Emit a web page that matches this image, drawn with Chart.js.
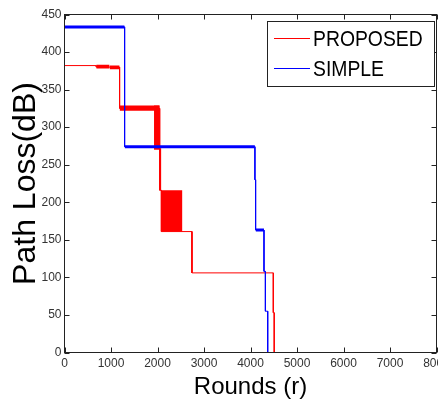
<!DOCTYPE html>
<html>
<head>
<meta charset="utf-8">
<script src="https://cdn.jsdelivr.net/npm/chart.js@4"></script>
<style>
  html, body { margin: 0; padding: 0; background: #fff; }
  canvas { display: block; }
</style>
</head>
<body>
<canvas id="pathLoss" width="438" height="402"></canvas>
<script>
// series: step paths (x = rounds, y = path loss in dB)
const proposedX = [0, 683, 683, 1185, 1185, 2047, 2047, 2083, 2083, 2743, 2743, 4490, 4490, 4510, 4510];
const proposedY = [382, 382, 380, 380, 325, 325, 216, 216, 161, 161, 106, 106, 53, 53, 0];
const simpleX = [0, 1293, 1293, 4095, 4095, 4110, 4110, 4290, 4290, 4320, 4320, 4370, 4370];
const simpleY = [433.5, 433.5, 274, 274, 230, 230, 163, 163, 108, 108, 55, 55, 0];

// noisy stretches: range the value jumps around in (from x0 to x1, lo..hi)
const proposedBandX0 = [683, 970, 1185, 1925, 2047, 2083, 2723];
const proposedBandX1 = [970, 1185, 2047, 2047, 2083, 2536, 2743];
const proposedBandLo = [378, 377, 322, 270, 216, 161, 106];
const proposedBandHi = [383, 382, 329, 329, 272, 216, 161];
const simpleBandX0 = [0, 1293, 4110];
const simpleBandX1 = [1293, 4095, 4290];
const simpleBandLo = [431.5, 272, 161];
const simpleBandHi = [435.5, 276, 165];

const xTicks = [0, 1000, 2000, 3000, 4000, 5000, 6000, 7000, 8000];
const yTicks = [0, 50, 100, 150, 200, 250, 300, 350, 400, 450];

const RED = '#ff0000';
const BLUE = '#0000ff';

const toPts = (xs, ys) => xs.map((x, i) => ({x: x, y: ys[i]}));

function bandSets(x0, x1, lo, hi, color, order) {
  const out = [];
  x0.forEach((a, i) => {
    out.push({
      label: '', band: true, order: order,
      data: [{x: a, y: lo[i]}, {x: x1[i], y: lo[i]}],
      borderWidth: 0, borderColor: color, pointRadius: 0, fill: false
    });
    out.push({
      label: '', band: true, order: order,
      data: [{x: a, y: hi[i]}, {x: x1[i], y: hi[i]}],
      borderWidth: 0, borderColor: color, backgroundColor: color,
      pointRadius: 0, fill: '-1'
    });
  });
  return out;
}

const datasets = [
  {label: 'PROPOSED', data: toPts(proposedX, proposedY), borderColor: RED, borderWidth: 1, pointRadius: 0, fill: false, order: 3},
  {label: 'SIMPLE', data: toPts(simpleX, simpleY), borderColor: BLUE, borderWidth: 1, pointRadius: 0, fill: false, order: 1}
]
  .concat(bandSets(proposedBandX0, proposedBandX1, proposedBandLo, proposedBandHi, RED, 2))
  .concat(bandSets(simpleBandX0, simpleBandX1, simpleBandLo, simpleBandHi, BLUE, 0));

const tickFont = {family: "'Liberation Sans Narrow', 'Liberation Sans', Arial, sans-serif", size: 12};

// matlab style frame with inward ticks
const framePlugin = {
  id: 'frame',
  afterDraw(chart) {
    const ctx = chart.ctx;
    const a = chart.chartArea;
    const xs = chart.scales.x, ys = chart.scales.y;
    ctx.save();
    ctx.strokeStyle = '#222';
    ctx.lineWidth = 1;
    ctx.strokeRect(a.left, a.top, a.right - a.left, a.bottom - a.top);
    ctx.beginPath();
    xTicks.forEach(v => {
      const px = Math.round(xs.getPixelForValue(v)) + 0.5;
      ctx.moveTo(px, a.bottom); ctx.lineTo(px, a.bottom - 5);
      ctx.moveTo(px, a.top); ctx.lineTo(px, a.top + 5);
    });
    yTicks.forEach(v => {
      const py = Math.round(ys.getPixelForValue(v)) + 0.5;
      ctx.moveTo(a.left, py); ctx.lineTo(a.left + 5, py);
      ctx.moveTo(a.right, py); ctx.lineTo(a.right - 5, py);
    });
    ctx.stroke();

    // legend box
    ctx.fillStyle = '#fff';
    ctx.fillRect(267.5, 21.5, 167, 65);
    ctx.strokeRect(267.5, 21.5, 167, 65);
    const items = chart.data.datasets.filter(d => !d.band);
    items.forEach((d, i) => {
      const y = 38.5 + i * 30;
      ctx.strokeStyle = d.borderColor;
      ctx.beginPath();
      ctx.moveTo(274, y); ctx.lineTo(310, y);
      ctx.stroke();
      ctx.save();
      ctx.translate(313, 45.7 + i * 30.3);
      ctx.scale(0.88, 1);
      ctx.fillStyle = '#000';
      ctx.font = "22px 'Liberation Sans', Arial, sans-serif";
      ctx.textBaseline = 'alphabetic';
      ctx.fillText(d.label, 0, 0);
      ctx.restore();
    });
    ctx.restore();
  }
};

new Chart(document.getElementById('pathLoss'), {
  type: 'line',
  data: {datasets: datasets},
  options: {
    responsive: false,
    animation: false,
    layout: {padding: {top: 14.5, right: 1.5, left: 0, bottom: 0}},
    plugins: {legend: {display: false}, tooltip: {enabled: false}},
    elements: {line: {tension: 0}},
    scales: {
      x: {
        type: 'linear', min: 0, max: 8000,
        afterFit: s => { s.height = 49.5; s.paddingLeft = 0; s.paddingRight = 0; },
        afterBuildTicks: s => { s.ticks = xTicks.map(v => ({value: v})); },
        grid: {display: false, drawTicks: false},
        border: {display: false},
        ticks: {font: tickFont, color: '#333', padding: 4, maxRotation: 0, autoSkip: false,
          callback: v => String(v)},
        title: {display: true, text: 'Rounds (r)', color: '#000',
          font: {family: "'Liberation Sans', Arial, sans-serif", size: 24}, padding: {top: 0, bottom: 0}}
      },
      y: {
        type: 'linear', min: 0, max: 450,
        afterFit: s => { s.width = 64.5; s.paddingTop = 0; s.paddingBottom = 0; },
        afterBuildTicks: s => { s.ticks = yTicks.map(v => ({value: v})); },
        grid: {display: false, drawTicks: false},
        border: {display: false},
        ticks: {font: tickFont, color: '#333', padding: 3, callback: v => String(v)},
        title: {display: true, text: 'Path Loss(dB)', color: '#000',
          font: {family: "'Liberation Sans', Arial, sans-serif", size: 32}, padding: {top: 7, bottom: 0}}
      }
    }
  },
  plugins: [framePlugin]
});
</script>
</body>
</html>
